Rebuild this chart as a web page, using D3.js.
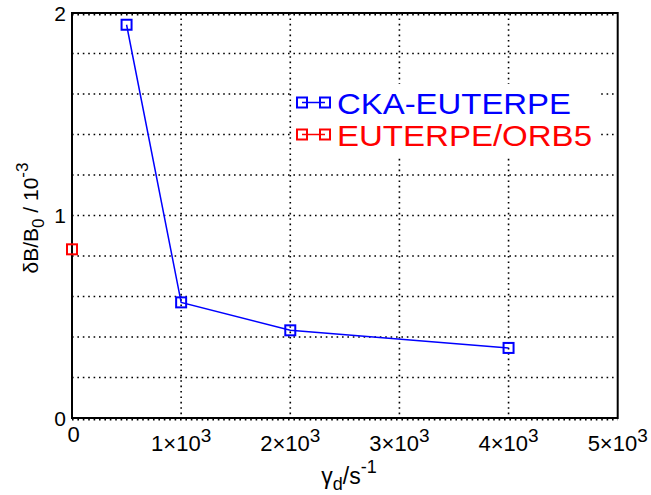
<!DOCTYPE html>
<html>
<head>
<meta charset="utf-8">
<script src="https://cdn.jsdelivr.net/npm/d3@7"></script>
<style>
  body { margin: 0; background: #fff; }
  svg { display: block; font-family: "Liberation Sans", Arial, Helvetica, sans-serif; }
</style>
</head>
<body>
<svg id="chart" width="651" height="495"></svg>
<script>
// Damping rate (s^-1) and saturated amplitude dB/B0 (x 10^-3)
const ckaGamma = [500, 1000, 2000, 4000];
const ckaAmp = [1.942, 0.571, 0.433, 0.346];
const orbGamma = [0];
const orbAmp = [0.833];

const seriesNames = ["CKA-EUTERPE", "EUTERPE/ORB5"];
const seriesColors = ["#0000ff", "#ff0000"];
const legendWidths = [234, 255];

const xTicks = [0, 1000, 2000, 3000, 4000, 5000];
const xTickMantissa = ["0", "1", "2", "3", "4", "5"];
const yTicks = [0, 1, 2];
const yGrid = [0, 0.2, 0.4, 0.6, 0.8, 1.0, 1.2, 1.4, 1.6, 1.8, 2.0];

const svg = d3.select("#chart");
const L = 72, R = 617.7, T = 13, B = 418;

const x = d3.scaleLinear().domain([0, 5000]).range([L, R]);
const y = d3.scaleLinear().domain([0, 2]).range([B, T]);

// dotted grid
const grid = svg.append("g")
  .attr("stroke", "#000").attr("stroke-width", 1.6)
  .attr("stroke-dasharray", "1.6,3.8").attr("fill", "none");
grid.selectAll("line.h").data(yGrid).join("line")
  .attr("x1", L).attr("x2", R)
  .attr("y1", d => y(d) + (d === 0 || d === 2 ? 1.6 : 0))
  .attr("y2", d => y(d) + (d === 0 || d === 2 ? 1.6 : 0));
grid.selectAll("line.v").data(xTicks.slice(1, 5)).join("line")
  .attr("x1", d => x(d)).attr("x2", d => x(d))
  .attr("y1", T).attr("y2", B);

// legend background hides grid beneath it
svg.append("rect").attr("x", 292).attr("y", 84).attr("width", 307).attr("height", 72)
  .attr("fill", "#fff");

// frame
svg.append("rect").attr("x", L).attr("y", T).attr("width", R - L).attr("height", B - T)
  .attr("fill", "none").attr("stroke", "#000").attr("stroke-width", 2);

// y tick labels
svg.append("g").selectAll("text").data(yTicks).join("text")
  .attr("x", 66).attr("y", d => y(d)).attr("dy", "0.36em")
  .attr("text-anchor", "end").attr("font-size", 21).text(d => d);

// x tick labels
const xt = svg.append("g").selectAll("text").data(xTicks).join("text")
  .attr("x", d => x(d) + (d === 0 ? 1.5 : 0))
  .attr("y", d => d === 0 ? 442 : 451)
  .attr("text-anchor", "middle").attr("font-size", 22);
xt.each(function(d, i) {
  const t = d3.select(this);
  if (d === 0) { t.text(xTickMantissa[i]); return; }
  t.append("tspan").text(xTickMantissa[i] + "\u00d710");
  t.append("tspan").attr("font-size", 19).attr("dy", -9).text("3");
});

// axis titles
const xl = svg.append("text").attr("x", 349).attr("y", 484)
  .attr("text-anchor", "middle").attr("font-size", 23);
xl.append("tspan").text("\u03b3");
xl.append("tspan").attr("font-size", 18).attr("dy", 6).text("d");
xl.append("tspan").attr("dy", -6).text("/s");
xl.append("tspan").attr("font-size", 18).attr("dy", -11).text("-1");

const yl = svg.append("text")
  .attr("transform", "translate(38,218) rotate(-90)")
  .attr("text-anchor", "middle").attr("font-size", 21);
yl.append("tspan").text("\u03b4B/B");
yl.append("tspan").attr("font-size", 17).attr("dy", 6).text("0");
yl.append("tspan").attr("dy", -6).text(" / 10");
yl.append("tspan").attr("font-size", 17).attr("dy", -10).text("-3");

// data
const line = d3.line().x(d => x(d[0])).y(d => y(d[1]));
const ckaPts = ckaGamma.map((g, i) => [g, ckaAmp[i]]);
const orbPts = orbGamma.map((g, i) => [g, orbAmp[i]]);
const sets = [ckaPts, orbPts];

sets.forEach((pts, k) => {
  svg.append("path").datum(pts).attr("d", line)
    .attr("fill", "none").attr("stroke", seriesColors[k]).attr("stroke-width", 1.5);
  svg.append("g").selectAll("rect").data(pts).join("rect")
    .attr("x", d => x(d[0]) - 5).attr("y", d => y(d[1]) - 5)
    .attr("width", 10).attr("height", 10)
    .attr("fill", "none").attr("stroke", seriesColors[k]).attr("stroke-width", 2);
});

// legend
const leg = svg.append("g");
seriesNames.forEach((name, k) => {
  const cy = 102.5 + k * 32;
  const g = leg.append("g");
  g.append("line").attr("x1", 302).attr("x2", 325).attr("y1", cy).attr("y2", cy)
    .attr("stroke", seriesColors[k]).attr("stroke-width", 1.5);
  [302, 325].forEach(cx => g.append("rect")
    .attr("x", cx - 5).attr("y", cy - 5).attr("width", 10).attr("height", 10)
    .attr("fill", "none").attr("stroke", seriesColors[k]).attr("stroke-width", 2));
  g.append("text").attr("x", 337).attr("y", cy + 11)
    .attr("font-size", 30).attr("fill", seriesColors[k])
    .attr("textLength", legendWidths[k]).attr("lengthAdjust", "spacingAndGlyphs")
    .text(name);
});
</script>
</body>
</html>
